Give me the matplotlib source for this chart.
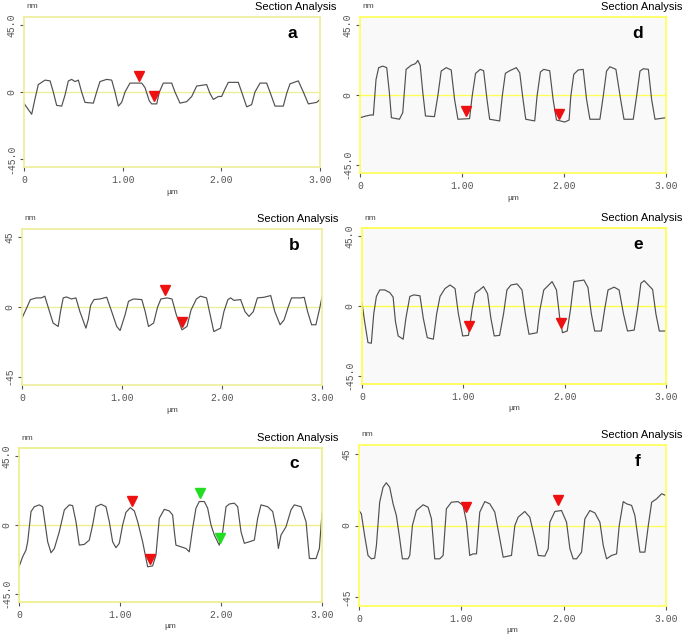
import matplotlib.pyplot as plt

# perfis de secao (x em um, altura em nm)
xa = [0.00, 0.078, 0.11, 0.145, 0.213, 0.264, 0.297, 0.331, 0.382, 0.416, 0.449, 0.483, 0.517, 0.551,
      0.584, 0.618, 0.703, 0.736, 0.77, 0.838, 0.889, 0.922, 0.956, 0.99, 1.024, 1.074, 1.193, 1.226,
      1.27, 1.294, 1.345, 1.372, 1.412, 1.497, 1.53, 1.581, 1.649, 1.70, 1.75, 1.851, 1.885, 1.919,
      1.97, 2.003, 2.037, 2.071, 2.172, 2.206, 2.257, 2.307, 2.341, 2.392, 2.459, 2.493, 2.544, 2.628,
      2.662, 2.696, 2.78, 2.831, 2.882, 2.966, 3.0]
ya = [-7.7, -15, -5, 5, 8, 7.5, 0, -9, -9.5, -2, 7.4, 8.5, 7, 8,
      0, -7, -7.5, 0, 7, 8.5, 8, 0, -9.5, -7, 0, 6, 6, 3,
      -6, -8, -8, 0, 6, 6, 0, -7.5, -6.5, -3, 4, 5, -1, -5,
      -3, -3, 2, 6.5, 6.5, 0, -10, -8.5, 0, 6, 6, 0, -9.5, -9.5,
      -1, 5.5, 7.5, 0, -8, -7, -5]

xb = [0, 0.044, 0.084, 0.144, 0.194, 0.228, 0.261, 0.311, 0.362, 0.385, 0.412, 0.445, 0.495, 0.539,
      0.579, 0.639, 0.663, 0.686, 0.72, 0.78, 0.847, 0.897, 0.947, 0.981, 1.031, 1.065, 1.115, 1.198,
      1.232, 1.265, 1.316, 1.356, 1.389, 1.45, 1.5, 1.543, 1.6, 1.65, 1.69, 1.744, 1.784, 1.845,
      1.878, 1.918, 1.985, 2.019, 2.059, 2.086, 2.119, 2.186, 2.23, 2.27, 2.313, 2.354, 2.42, 2.487,
      2.528, 2.581, 2.621, 2.662, 2.695, 2.789, 2.822, 2.856, 2.896, 2.939, 2.973, 3.0]
yb = [-7.2, -1, 4.8, 5.9, 5.9, 7, 0, -10.4, -12.6, -3, 5.9, 6.5, 5.2, 5.9,
      -3, -13.7, -8, 1, 4.8, 5.2, 6.3, -3, -12.6, -15.2, -5, 3.7, 5.2, 4.8,
      -3, -12.6, -10.4, 0, 5.2, 5.9, 5.2, -5, -14.8, -12.6, -2, 5.2, 7, 5.9,
      -4, -15.9, -13.7, -3, 4.8, 5.9, 4.3, 4.8, -3, -6.1, -3, 5.9, 6.3, 7.4,
      -3, -11.5, -8.3, 0, 5.9, 5.9, 6.3, -3, -11.5, -11.5, -2, 6.5]

xc = [0, 0.036, 0.069, 0.086, 0.119, 0.152, 0.201, 0.234, 0.251, 0.284, 0.317, 0.35, 0.399, 0.449,
      0.498, 0.531, 0.564, 0.597, 0.647, 0.696, 0.729, 0.762, 0.812, 0.861, 0.894, 0.927, 0.96, 0.993,
      1.026, 1.059, 1.102, 1.142, 1.175, 1.224, 1.274, 1.323, 1.356, 1.389, 1.439, 1.488, 1.521, 1.538,
      1.554, 1.604, 1.653, 1.686, 1.719, 1.752, 1.785, 1.835, 1.868, 1.901, 1.934, 1.983, 2.017, 2.05,
      2.083, 2.132, 2.165, 2.198, 2.231, 2.281, 2.33, 2.363, 2.396, 2.462, 2.512, 2.545, 2.568, 2.594,
      2.644, 2.693, 2.726, 2.792, 2.842, 2.875, 2.941, 2.974, 3.0]
yc = [-27.4, -20.9, -16.5, -11, 8.8, 12, 13.2, 12, 4.4, -11, -18.2, -15.4, -4.4, 9.9,
      13.2, 12.7, 2.2, -13.2, -12.7, -9.9, 0, 12, 13.6, 12, 2.2, -11, -14.9, -12,
      0, 8.3, 11.4, 9.2, 2.2, -11, -27.4, -26.8, -19.8, 4.4, 10.3, 9.2, 6.6, -4.4,
      -13.2, -14.3, -15.4, -17.6, -2.2, 11, 15.4, 15.4, 11, 0, -6.6, -13.2, -4.4, 12,
      13.8, 14.3, 12, -4.4, -12, -11, -9.9, 4.4, 13.2, 12, 8.8, -2.2, -15.4, -6.6,
      -1.1, 9.9, 13.2, 12, 2.2, -22, -22, -15.4, 7.7]

xd = [0, 0.059, 0.108, 0.131, 0.157, 0.183, 0.223, 0.262, 0.288, 0.308, 0.387, 0.419, 0.452, 0.501,
      0.544, 0.567, 0.59, 0.616, 0.642, 0.73, 0.763, 0.796, 0.845, 0.894, 0.927, 0.96, 1.074, 1.1,
      1.133, 1.179, 1.212, 1.245, 1.271, 1.369, 1.395, 1.425, 1.467, 1.533, 1.566, 1.598, 1.625, 1.713,
      1.736, 1.769, 1.801, 1.86, 1.893, 1.926, 2.008, 2.05, 2.067, 2.096, 2.139, 2.188, 2.221, 2.254,
      2.352, 2.385, 2.417, 2.45, 2.509, 2.555, 2.588, 2.679, 2.712, 2.745, 2.778, 2.827, 2.859, 2.892, 3.0]
yd = [-14.7, -13.6, -12.9, -13, 10, 17.7, 18.7, 17.7, 1.5, -14.7, -15.7, -11.4, 16.6, 19.2,
      20.3, 22.4, 19.2, 1.5, -13.6, -14, -0.6, 15.5, 17.7, 16.2, -2.8, -15.7, -15.3, -0.6,
      14, 16.6, 15.7, -2.8, -15.7, -16.8, -0.6, 14, 15.7, 17.7, 14.4, -2.8, -15.7, -16.8,
      -0.6, 14.9, 16.6, 15.7, -2.8, -16.2, -17.5, -16.2, -0.6, 13.4, 16.2, 16.6, -2.8, -15.7,
      -15.7, -0.6, 15.5, 18.3, 16.6, -2.8, -15.7, -15.7, -0.6, 15.5, 17, 16.6, -2.8, -15.7, -14.7]

xe = [0, 0.026, 0.059, 0.092, 0.116, 0.142, 0.175, 0.225, 0.274, 0.307, 0.33, 0.357, 0.406, 0.433,
      0.472, 0.512, 0.572, 0.605, 0.644, 0.704, 0.737, 0.77, 0.819, 0.869, 0.918, 0.951, 0.994, 1.051,
      1.087, 1.117, 1.16, 1.199, 1.239, 1.272, 1.305, 1.358, 1.397, 1.43, 1.47, 1.53, 1.579, 1.612,
      1.648, 1.728, 1.754, 1.794, 1.843, 1.876, 1.919, 1.952, 1.979, 2.025, 2.058, 2.091, 2.19, 2.23,
      2.263, 2.296, 2.362, 2.395, 2.428, 2.488, 2.537, 2.58, 2.62, 2.686, 2.719, 2.752, 2.785, 2.834,
      2.868, 2.9, 2.934, 3.0]
ye = [1.9, -10, -23.7, -24.1, -5, 6.2, 10.4, 10.4, 8.7, 5.8, -10, -19.4, -21.5, -8,
      6.2, 7.2, 6.6, -8, -20.5, -21.5, -5, 6.2, 11.3, 13.6, 11.3, -5, -19.4, -19,
      -2, 8.3, 10.4, 12.6, 8, -8, -19.4, -19, -5, 10.4, 13.6, 14.3, 10.4, -5,
      -18.3, -17.3, -3, 10.4, 13.6, 15.8, 10.4, -8, -17.3, -16.2, -2, 15.8, 16.8, 12,
      -5, -16.2, -16.2, -2, 10.4, 12.2, 10.4, -5, -16.2, -15.6, -2, 14.7, 16.4, 13,
      10.7, -5, -16.2, -16.2]

xf = [0, 0.023, 0.055, 0.088, 0.121, 0.153, 0.17, 0.202, 0.235, 0.267, 0.3, 0.333, 0.365, 0.398,
      0.424, 0.479, 0.496, 0.522, 0.561, 0.626, 0.675, 0.708, 0.74, 0.789, 0.822, 0.854, 0.903, 0.968,
      1.017, 1.05, 1.082, 1.115, 1.148, 1.18, 1.229, 1.278, 1.327, 1.376, 1.409, 1.457, 1.49, 1.523,
      1.555, 1.62, 1.669, 1.718, 1.751, 1.816, 1.849, 1.865, 1.914, 1.979, 2.028, 2.061, 2.093, 2.126,
      2.175, 2.207, 2.256, 2.305, 2.354, 2.387, 2.419, 2.468, 2.517, 2.543, 2.582, 2.615, 2.664, 2.696,
      2.745, 2.794, 2.827, 2.86, 2.908, 2.957, 3.0]
yf = [9.4, 7.3, -6.3, -18.8, -20.9, -20.5, -12.6, 14.6, 24, 26.8, 24, 13.6, 6.3, -8.4,
      -20.9, -20.9, -18.8, 0, 9.4, 13, 11.5, 4.2, -20.9, -20.9, -18.8, 10.5, 14.6, 15,
      12.6, 2.1, -18.8, -17.8, -17.8, 8.4, 15, 13.6, 8.4, -8.4, -19.9, -19.2, -18.8, 0,
      5.2, 8.8, 5.2, -8.4, -18.8, -19.2, -14.6, 2.1, 8.8, 9.4, 2.1, -14.6, -20.9, -20.9,
      -16.7, 4.2, 9.4, 7.9, 2.1, -12.6, -20.9, -18.8, -17.8, 0, 15, 13.6, 12.6, 6.3,
      -16.7, -16.7, 0, 14.6, 16.7, 19.9, 18.8]

# cursores (triangulos)
ma_x, ma_y, ma_c = [1.169, 1.318], [10.8, -2.5], ['r', 'r']
mb_x, mb_y, mb_c = [1.426, 1.60], [11.3, -10], ['r', 'r']
mc_x, mc_y, mc_c = [1.119, 1.297, 1.795, 1.99], [15.8, -22, 20.9, -8.8], ['r', 'r', 'g', 'g']
md_x, md_y, md_c = [1.042, 1.949], [-10.3, -12.5], ['r', 'r']
me_x, me_y, me_c = [1.051, 1.959], [-13, -10.9], ['r', 'r']
mf_x, mf_y, mf_c = [1.043, 1.947], [11.5, 15.7], ['r', 'r']

xticklab = ['0', '1.00', '2.00', '3.00']
ylab_dec = ['-45.0', '0', '45.0']
ylab_int = ['-45', '0', '45']

W, H = 685, 637
fig = plt.figure(figsize=(W / 100, H / 100), dpi=100)
cores = {'r': '#ee1111', 'g': '#22dd22'}


def painel(box, x, y, mx, my, mc, letra, ylab, borda, fundo):
    l, t, r, b = box
    ax = fig.add_axes([l / W, 1 - b / H, (r - l) / W, (b - t) / H])
    ax.set_facecolor(fundo)
    ax.axhline(0, color=borda, lw=1.0, zorder=1)
    ax.plot(x, y, color='#505050', lw=0.85, zorder=2)
    for xi, yi, c in zip(mx, my, mc):
        ax.plot(xi, yi, marker='v', ms=7.5, color=cores[c], ls='none', zorder=3)
    ax.set_xlim(0, 3)
    ax.set_ylim(-50.5, 50.5)
    ax.set_xticks([0, 1, 2, 3])
    ax.set_xticklabels(xticklab, family='Liberation Mono')
    ax.set_yticks([-45, 0, 45])
    ax.set_yticklabels(ylab, family='Liberation Mono', rotation=90, va='center')
    ax.tick_params(length=3, width=0.8, color='#555555', labelsize=7,
                   labelcolor='#555555', pad=3)
    ax.tick_params(axis='y', pad=2.5)
    for s in ax.spines.values():
        s.set_color(borda)
        s.set_linewidth(1.2)
    fig.text((l + 2) / W, 1 - (t - 10) / H, 'nm', fontsize=6, color='#444444',
             family='Liberation Sans', va='center')
    fig.text((r + 16) / W, 1 - (t - 10) / H, 'Section Analysis', fontsize=8,
             family='Liberation Sans', ha='right', va='center')
    fig.text((r - 28) / W, 1 - (t + 16) / H, letra, fontsize=12.5, weight='bold',
             family='Liberation Sans', ha='center', va='center')
    fig.text((l + r) / 2 / W, 1 - (b + 25) / H, 'µm', fontsize=6, color='#444444',
             family='Liberation Sans', ha='center', va='center')


painel((24, 17, 320, 167), xa, ya, ma_x, ma_y, ma_c, 'a', ylab_dec, '#eeee99', 'white')
painel((360, 17, 666, 173), xd, yd, md_x, md_y, md_c, 'd', ylab_dec, '#ffff55', '#f9f9f9')
painel((22, 229, 322, 385), xb, yb, mb_x, mb_y, mb_c, 'b', ylab_int, '#eeee99', 'white')
painel((362, 228, 666, 384), xe, ye, me_x, me_y, me_c, 'e', ylab_dec, '#ffff44', '#f9f9f9')
painel((19, 448, 322, 602), xc, yc, mc_x, mc_y, mc_c, 'c', ylab_dec, '#eeee88', 'white')
painel((359, 445, 666, 606), xf, yf, mf_x, mf_y, mf_c, 'f', ylab_int, '#ffff55', '#f9f9f9')

plt.savefig('out.png', dpi=100)
